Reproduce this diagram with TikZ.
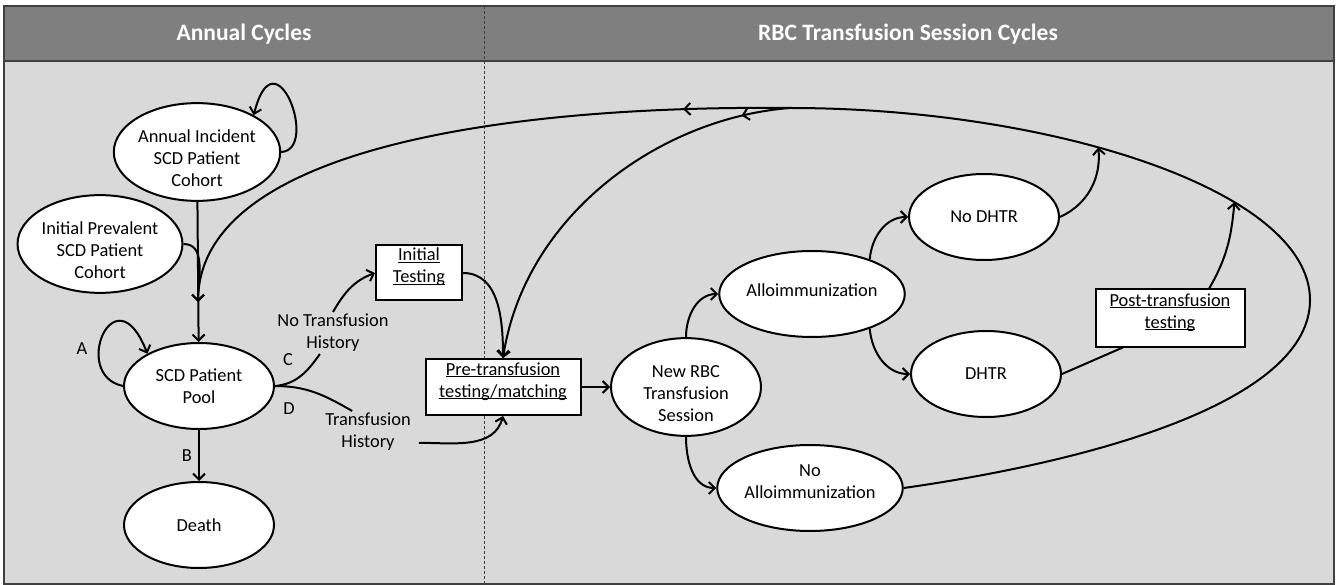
\documentclass[tikz,border=0pt]{standalone}
\usepackage{fontspec}
\setmainfont{Carlito}
\usetikzlibrary{shapes.geometric,arrows.meta,decorations.markings}
\definecolor{headgray}{HTML}{7F7F7F}
\definecolor{bodygray}{HTML}{D9D9D9}
\definecolor{framegray}{HTML}{404040}
\newcommand{\ulin}[1]{\underline{\smash{#1}}}
\newcommand{\tallfirst}{\rule{0pt}{25pt}}
\newcommand{\deeplast}[1]{\rule[-#1]{0pt}{#1}}
\begin{document}
\begin{tikzpicture}[x=1pt,y=1pt,
	font=\fontsize{18.4}{22}\selectfont,
	>={Straight Barb[length=6pt,width=12pt]},
	state/.style={ellipse,draw,fill=white,line width=2pt,minimum width=150pt,minimum height=86pt,inner sep=0pt,align=center},
	testbox/.style={rectangle,draw,fill=white,line width=2pt,inner sep=0pt,align=center},
	lbl/.style={inner sep=2pt,align=center},
	link/.style={line width=2pt},
	arr/.style={link,->},
	midarr/.style={postaction={decorate},decoration={markings,mark=at position #1 with {\arrow{>}}}},
	head/.style={white,font=\fontsize{23.5}{28}\selectfont\bfseries}]
	\useasboundingbox (0,0) rectangle (1341,-585);

	% panels
	\fill[bodygray] (4,-61) rectangle (1334,-584);
	\fill[headgray] (4,-6) rectangle (1334,-61);
	\draw[framegray,line width=1.5pt] (4,-6) rectangle (1334,-584);
	\draw[framegray,line width=1.2pt] (4,-61) -- (1334,-61);
	\draw[framegray,line width=0.8pt,dash pattern=on 3pt off 2pt] (484,-6) -- (484,-584);
	\node[head] (hannual) at (244,-34) {Annual Cycles};
	\node[head] (hsession) at (908,-34) {RBC Transfusion Session Cycles};

	% annual cycle states
	\node[state] (inc) at (197,-152) {\tallfirst Annual Incident\\SCD Patient\\Cohort};
	\node[state] (prev) at (100,-244) {\tallfirst Initial Prevalent\\SCD Patient\\Cohort};
	\node[state] (pool) at (199,-386) {SCD Patient\\Pool};
	\node[state] (death) at (199,-525) {Death};
	\node[testbox,minimum width=86pt,minimum height=55pt] (init) at (419,-273) {\ulin{Initial}\\\ulin{Testing}};
	\node[testbox,minimum width=155pt,minimum height=56pt] (pre) at (503,-387) {\ulin{Pre-transfusion}\\\ulin{testing/matching}};

	% session states
	\node[state] (rbc) at (686,-387) {\tallfirst New RBC\\Transfusion\\Session};
	\node[state] (allo) at (812,-294) {Alloimmunization\deeplast{8pt}};
	\node[state] (noallo) at (810,-488) {No\\Alloimmunization\deeplast{12pt}};
	\node[state] (nodhtr) at (984,-217) {No DHTR};
	\node[state] (dhtr) at (986,-374) {DHTR};
	\node[testbox,minimum width=149pt,minimum height=57pt] (post) at (1170,-318) {\ulin{Post-transfusion}\\\ulin{testing}};

	% labels
	\node[lbl] (nth) at (333,-333) {No Transfusion\\History};
	\node[lbl,inner xsep=8pt] (th) at (368,-432) {Transfusion\\History};
	\node[lbl] (la) at (82,-349) {A};
	\node[lbl] (lc) at (288,-360) {C};
	\node[lbl] (ld) at (289,-409) {D};

	\coordinate (merge) at (198,-302);
	\coordinate (top) at (790,-108);

	% annual transitions
	\draw[arr] (inc.east) .. controls (320,-150) and (275,-30) .. (inc.33);
	\draw[arr] (inc) -- (pool);
	\draw[arr] (prev.east) to[out=0,in=90] (merge);
	\draw[arr] (pool.west) .. controls (70,-375) and (115,-270) .. (pool.148);
	\draw[arr] (pool) -- node[lbl,left=4pt] (lb) {B} (death);
	\draw[link] (pool.east) to[out=5,in=-125] (nth.238);
	\draw[arr] (nth.north) to[out=60,in=200] (init.west);
	\draw[link] (pool.east) to[out=0,in=150] (th.127);
	\draw[arr] (th.-12) to[out=0,in=-105] (pre.south);
	\draw[arr] (init.east) to[out=0,in=90] (pre.north);

	% session transitions
	\draw[arr] (pre) -- (rbc);
	\draw[arr] (rbc.north) to[out=90,in=180] (allo.west);
	\draw[arr] (rbc.south) to[out=-90,in=180] (noallo.west);
	\draw[arr] (allo.31) to[out=85,in=180] (nodhtr.west);
	\draw[arr] (allo.-31) to[out=-85,in=180] (dhtr.west);
	\draw[link] (dhtr.east) -- (post.212);

	% return loop
	\draw[link] (noallo.east) .. controls (1100,-460) and (1310,-400) .. (1310,-300)
		.. controls (1310,-190) and (1050,-108) .. coordinate[pos=0.33] (j2) coordinate[pos=0.58] (j1) (top);
	\draw[arr] (nodhtr.east) to[out=25,in=-85] (j1);
	\draw[arr] (post.37) to[out=60,in=-95] (j2);
	\draw[arr,midarr=0.16] (top) .. controls (500,-105) and (200,-150) .. (merge);
	\draw[arr,midarr=0.12] (top) .. controls (660,-118) and (525,-215) .. (pre.north);
\end{tikzpicture}
\end{document}
